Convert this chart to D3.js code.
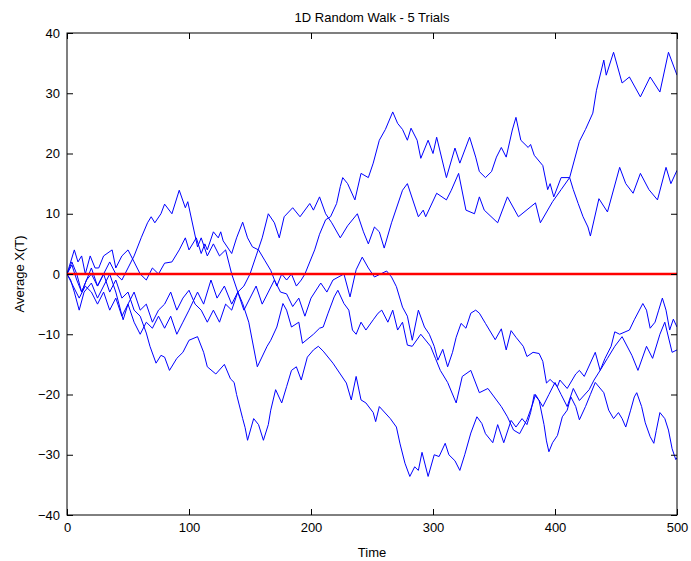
<!DOCTYPE html>
<html>
<head>
<meta charset="utf-8">
<script src="https://cdn.jsdelivr.net/npm/d3@7"></script>
<style>
  body { margin: 0; background: #fff; }
  text { font-family: "Liberation Sans", Arial, Helvetica, sans-serif; fill: #000; }
</style>
</head>
<body>
<svg id="chart" width="691" height="561"></svg>
<script>
// [time step, position], one array per trial
var trial1 = [[0,0],[5,-2],[10,-4],[15,-2],[20,-3],[25,-5],[30,-3],[35,-6],[40,-4],[45,-7],[50,-5],[55,-3],[60,-6],[65,-5],[70,-8],[75,-6],[80,-5],[85,-3],[90,-6],[95,-4],[100,-2.7],[105,-5],[110,-6],[115,-8],[120,-6],[125,-8],[130,-5],[135,-6],[140,-3],[145,-2],[150,0],[155,3],[160,6],[165,10],[170,8.5],[174,6],[178,9.5],[185,11],[191,9.5],[199,11.7],[202,10.6],[207,12.8],[212,10],[217,8.5],[224,6],[230,8],[238,10],[243,7],[247,5],[252,7.8],[256,7],[260,4.3],[266,8.5],[275,13.9],[279,15],[288,9.5],[292,10.6],[294,9.5],[303,13.4],[311,12.3],[315,13.9],[321,16.7],[327,10.6],[334,10],[338,12.8],[342,10.6],[353,8.5],[361,12.8],[370,9.5],[384,11.8],[388,8.5],[398,12],[405,14],[412,16],[420,22],[425,24],[431,26.7],[434,30.5],[440,35.5],[442,33],[448,36.8],[455,31.7],[461,32.7],[470,29.4],[478,32.7],[486,30.2],[493,36.8],[500,33]];
var trial2 = [[0,0],[3,2],[6,4],[9,2],[12,3],[15,0],[19,3],[23,1],[26,1],[30,3],[37,4],[40,1],[45,3],[50,4],[55,2],[60,0],[65,-1],[70,1],[75,0],[80,1.8],[86,2],[92,4],[97,6],[100,4],[106,6],[110,3.4],[113,5],[115,4],[120,7],[124,6],[126,7],[128,5.5],[135,3.4],[139,6],[144,8.6],[148,6],[152,4.5],[157,4],[162,2.3],[167,0.6],[172,-2],[176,0],[180,-1],[184,0],[188,-2],[192,-1],[195,0],[199,2],[203,4],[207,6.6],[212,9],[216,9.5],[221,11.7],[224,14.5],[226,16],[230,15],[236,12.3],[241,16.7],[247,16],[251,18.4],[256,22.2],[261,24],[267,26.9],[271,25],[275,24],[279,22.2],[282,24.2],[287,22.2],[290,19.2],[296,22.2],[300,20],[303,22.7],[311,16],[318,20.9],[322,18.4],[330,22.7],[335,19.4],[338,17],[343,16],[348,17],[352,19.4],[356,21],[360,19.4],[365,23.9],[368,26],[372,22.2],[378,21],[380,21.5],[383,19.7],[390,18],[394,14],[396,15],[399,12.8],[405,16],[412,16],[415,14],[419,11.7],[423,9.5],[427,7.8],[429,6.3],[436,12.5],[443,10.3],[453,17.7],[458,15],[464,13.4],[470,16.7],[477,14],[484,12.3],[491,17.7],[495,15],[500,17.2]];
var trial3 = [[0,0],[4,1.5],[8,-1],[12,-3],[16,-1],[20,0],[25,-2],[30,0],[35,2],[40,0],[45,-1],[50,1],[55,3],[61,6.1],[66,8.5],[69,9.5],[72,8.5],[77,10],[80,11.6],[86,10],[92,13.9],[97,11],[99,12],[104,7.3],[107,4.5],[110,6],[115,3],[120,5],[125,3],[130,4],[135,0],[140,-3],[144,-4.9],[149,-8],[156,-15.4],[164,-12],[167,-11],[172,-8.8],[177,-4.9],[180,-6],[184,-8.8],[190,-8],[193,-11.5],[202,-10],[207,-9],[210,-8.8],[214,-6.5],[219,-3.8],[222,-2.7],[227,-4.9],[231,-6],[234,-9.3],[237,-10],[241,-8],[245,-9.3],[251,-7.6],[255,-6.5],[258,-6],[263,-8],[267,-6],[271,-9.3],[275,-8],[279,-11.8],[283,-12],[290,-10],[298,-12],[302,-14],[306,-16],[312,-18],[319,-21.4],[324,-17],[331,-16],[338,-19.7],[345,-19],[356,-22],[361,-23.7],[366,-25.9],[371,-26.5],[377,-24.2],[382,-21.4],[384,-20],[390,-22],[395,-20],[400,-18],[405,-20],[410,-22],[415,-19],[420,-21],[428,-19.2],[432,-17.6],[437,-16],[443,-14],[449,-12],[455,-10.4],[463,-13.5],[468,-16],[475,-12],[480,-14],[486,-10],[490,-8],[496,-13],[500,-12.6]];
var trial4 = [[0,0],[3,-1],[6,-3],[10,-6],[14,-3],[20,-1.5],[25,-4],[30,-2],[35,0],[40,-3],[46,-7.6],[50,-5],[55,-8],[60,-10],[65,-8],[70,-9],[75,-7],[80,-9],[85,-7],[90,-10],[95,-8],[100,-6],[107,-3],[112,-5],[118,-1],[123,-4],[129,-2],[135,-5],[140,-3],[145,-6],[150,-4],[155,-2],[160,-5],[165,-3],[170,-1],[175,-3],[180,-3.3],[185,-5.4],[190,-4],[195,-7],[200,-4],[208,-1.5],[213,-3],[218,-1],[227,0],[232,-3.8],[237,0.7],[242,2.8],[247,1],[252,-0.5],[257,0],[262,0.5],[266,-0.5],[270,-2.1],[275,-5.5],[279,-7],[283,-11],[288,-6],[293,-8.8],[297,-10],[301,-12],[304,-14.3],[308,-12.5],[312,-15.4],[316,-13],[319,-10.5],[323,-8.2],[327,-9],[331,-6.5],[335,-6],[338,-6.5],[343,-8.2],[351,-10.9],[356,-9.1],[360,-12.6],[364,-9.4],[368,-10.5],[374,-12],[377,-13.7],[382,-13],[387,-13.2],[390,-14.5],[393,-18.1],[396,-17.5],[402,-18.7],[404,-17.6],[410,-19],[417,-16.6],[420,-16],[424,-17],[433,-13],[437,-16],[441,-14],[446,-12],[449,-9.6],[453,-10],[461,-9.3],[465,-7.6],[472,-4.9],[475,-6],[478,-9],[482,-8],[485,-6],[488,-4],[491,-6],[494,-9.3],[497,-7.5],[500,-8.8]];
var trial5 = [[0,0],[4,2],[8,0],[12,-3],[16,-1],[20,1],[25,-2],[30,0],[35,-3],[40,-1],[45,-4],[50,-3],[55,-6],[60,-7],[65,-9.8],[68,-12],[73,-14.8],[77,-13.5],[80,-13.8],[84,-16],[90,-14],[95,-13],[100,-11],[107,-10.4],[112,-13],[115,-15.4],[122,-16.6],[129,-15],[134,-17.4],[137,-18],[139,-20],[144,-24],[146,-25.5],[148,-27.6],[153,-24],[157,-25],[161,-27.6],[165,-25],[167,-22.6],[171,-19.2],[176,-21.4],[180,-18.7],[184,-16],[188,-15.4],[192,-17.6],[197,-13.8],[202,-12.6],[206,-12],[210,-12.8],[218,-14.8],[224,-16.6],[229,-18.1],[233,-20.9],[237,-17],[241,-20.9],[245,-21.4],[251,-23],[253,-24.5],[256,-22],[265,-24],[270,-25.4],[273,-28.2],[277,-31.4],[281,-33.6],[285,-32],[288,-32.6],[291,-29.6],[296,-33.6],[301,-30],[305,-30.3],[310,-28.1],[313,-30],[318,-31],[322,-32.6],[326,-30],[331,-26.4],[336,-23.7],[340,-24.8],[343,-26.5],[349,-28],[353,-25],[358,-28],[364,-24.3],[368,-25.4],[373,-24],[377,-25],[380,-23],[383,-20],[387,-21],[391,-25],[393,-27.7],[395,-29.5],[398,-28],[402,-26.8],[406,-23.7],[410,-22.6],[413,-20.4],[417,-22],[420,-24.2],[425,-22],[429,-20],[433,-18],[440,-19.7],[444,-22.6],[448,-24],[452,-23],[455,-24],[458,-25.4],[462,-22.6],[465,-20.4],[467,-19.7],[471,-22],[474,-24.7],[478,-27],[481,-28.1],[483,-26],[486,-23],[490,-24],[493,-25.9],[496,-29],[499,-30.8],[500,-30.5]];

var trials = [trial1, trial2, trial3, trial4, trial5];
var meanLine = [[0, 0], [500, 0]];

var xTicks = [0, 100, 200, 300, 400, 500];
var yTicks = [-40, -30, -20, -10, 0, 10, 20, 30, 40];

var titleText = "1D Random Walk - 5 Trials",
    xLabel = "Time",
    yLabel = "Average X(T)";

(function() {
  var svg = d3.select("#chart"),
      left = 67, right = 677, top = 33, bottom = 515;

  var x = d3.scaleLinear().domain([0, 500]).range([left, right]);
  var y = d3.scaleLinear().domain([-40, 40]).range([bottom, top]);

  svg.append("defs").append("clipPath").attr("id", "plot-clip")
    .append("rect")
      .attr("x", left).attr("y", top)
      .attr("width", right - left).attr("height", bottom - top);

  var line = d3.line()
      .x(function(d) { return x(d[0]); })
      .y(function(d) { return y(d[1]); });

  var plot = svg.append("g").attr("clip-path", "url(#plot-clip)");

  plot.selectAll(".walk")
      .data(trials)
    .enter().append("path")
      .attr("class", "walk")
      .attr("d", line)
      .attr("fill", "none")
      .attr("stroke", "#0000ff")
      .attr("stroke-width", 1);

  plot.append("path")
      .datum(meanLine)
      .attr("d", line)
      .attr("fill", "none")
      .attr("stroke", "#ff0000")
      .attr("stroke-width", 2.5);

  // matlab style: ticks point inward on all four sides
  function styleAxis(g) {
    g.select(".domain").remove();
    g.selectAll(".tick line").attr("stroke", "#000");
    g.selectAll(".tick text")
      .attr("fill", "#000")
      .style("font-size", "13px")
      .style("font-family", "'Liberation Sans', Arial, sans-serif");
  }

  svg.append("g")
      .attr("transform", "translate(0," + bottom + ")")
      .call(d3.axisBottom(x).tickValues(xTicks).tickSize(-6).tickPadding(8))
      .call(styleAxis);

  svg.append("g")
      .attr("transform", "translate(0," + top + ")")
      .call(d3.axisTop(x).tickValues(xTicks).tickSize(-6).tickFormat(""))
      .call(styleAxis);

  svg.append("g")
      .attr("transform", "translate(" + left + ",0)")
      .call(d3.axisLeft(y).tickValues(yTicks).tickSize(-6).tickPadding(7))
      .call(styleAxis);

  svg.append("g")
      .attr("transform", "translate(" + right + ",0)")
      .call(d3.axisRight(y).tickValues(yTicks).tickSize(-6).tickFormat(""))
      .call(styleAxis);

  svg.append("rect")
      .attr("x", left).attr("y", top)
      .attr("width", right - left).attr("height", bottom - top)
      .attr("fill", "none")
      .attr("stroke", "#000")
      .attr("stroke-width", 1);

  svg.append("text")
      .attr("x", (left + right) / 2)
      .attr("y", 22)
      .attr("text-anchor", "middle")
      .style("font-size", "13px")
      .text(titleText);

  svg.append("text")
      .attr("x", (left + right) / 2)
      .attr("y", 557)
      .attr("text-anchor", "middle")
      .style("font-size", "13px")
      .text(xLabel);

  svg.append("text")
      .attr("transform", "translate(24," + (top + bottom) / 2 + ") rotate(-90)")
      .attr("text-anchor", "middle")
      .style("font-size", "13px")
      .text(yLabel);
})();
</script>
</body>
</html>
